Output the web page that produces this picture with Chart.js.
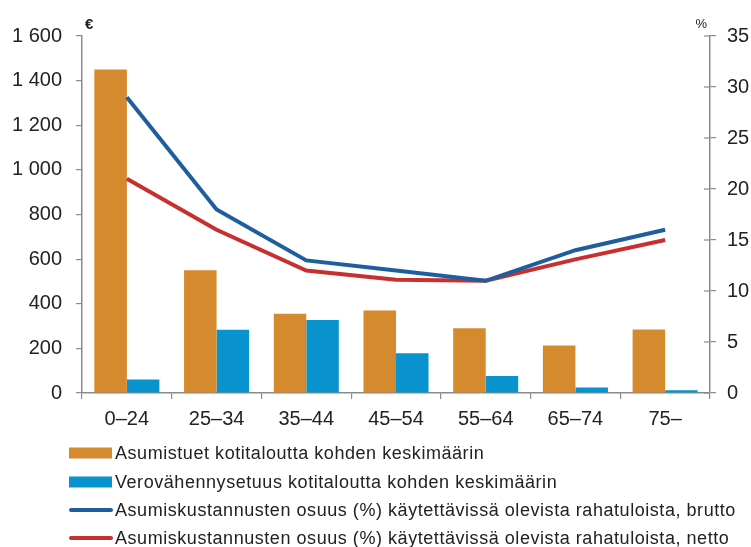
<!DOCTYPE html>
<html>
<head>
<meta charset="utf-8">
<script src="https://cdn.jsdelivr.net/npm/chart.js@4.4.1/dist/chart.umd.min.js"></script>
<style>
html,body{margin:0;padding:0;background:#fff;}
#wrap{position:relative;width:751px;height:547px;}
</style>
</head>
<body>
<div id="wrap"><canvas id="c" width="751" height="547"></canvas></div>
<script>
const categories = ['0–24','25–34','35–44','45–54','55–64','65–74','75–'];
const asumistuet = [1450, 550, 355, 370, 290, 213, 285];
const verovahennys = [60, 283, 327, 178, 76, 25, 12];
const osuusBrutto = [29, 18, 13, 12, 11, 14, 16];
const osuusNetto = [21, 16, 12, 11.1, 11, 13.1, 15];
const leftTickLabels = ['0','200','400','600','800','1 000','1 200','1 400','1 600'];
const rightTickLabels = ['0','5','10','15','20','25','30','35'];
const seriesNames = [
  'Asumistuet kotitaloutta kohden keskimäärin',
  'Verovähennysetuus kotitaloutta kohden keskimäärin',
  'Asumiskustannusten osuus (%) käytettävissä olevista rahatuloista, brutto',
  'Asumiskustannusten osuus (%) käytettävissä olevista rahatuloista, netto'
];
const leftUnit = '€';
const rightUnit = '%';

const COL_OR = '#D68A2E', COL_BL = '#0993CE', COL_BLINE = '#1E5E9F', COL_RED = '#C7302F';
const AXIS = '#8a8a8a', TXT = '#222';
const FONT = "'Liberation Sans', Arial, sans-serif";

const extras = {
  id: 'extras',
  afterDraw(chart) {
    const ctx = chart.ctx, a = chart.chartArea;
    ctx.save();
    ctx.fillStyle = TXT;
    ctx.textBaseline = 'middle';
    ctx.font = 'bold 15px ' + FONT;
    ctx.textAlign = 'left';
    ctx.fillText(leftUnit, a.left + 3, 25);
    ctx.font = '13px ' + FONT;
    ctx.textAlign = 'right';
    ctx.fillText(rightUnit, a.right - 3, 24);
    // right axis crossing ticks
    const y1 = chart.scales.y1;
    ctx.strokeStyle = AXIS; ctx.lineWidth = 1.2;
    y1.ticks.forEach((t) => {
      const yy = y1.getPixelForValue(t.value);
      ctx.beginPath(); ctx.moveTo(a.right - 6, yy); ctx.lineTo(a.right, yy); ctx.stroke();
    });
    // legend
    const ds = chart.data.datasets;
    const rows = [453, 482, 510, 538];
    ctx.font = '18px ' + FONT;
    if ('letterSpacing' in ctx) ctx.letterSpacing = '0.55px';
    ctx.textAlign = 'left';
    ds.forEach((d, i) => {
      const y = rows[i];
      if (d.type === 'line') {
        ctx.strokeStyle = d.borderColor; ctx.lineWidth = 4; ctx.lineCap = 'round';
        ctx.beginPath(); ctx.moveTo(71, y); ctx.lineTo(111, y); ctx.stroke();
      } else {
        ctx.fillStyle = d.backgroundColor;
        ctx.fillRect(69, y - 5.5, 43, 11);
      }
      ctx.fillStyle = TXT;
      ctx.fillText(d.label, 115, y + 1);
    });
    ctx.restore();
  }
};

new Chart(document.getElementById('c'), {
  data: {
    labels: categories,
    datasets: [
      {type:'bar', label: seriesNames[0], data: asumistuet, backgroundColor: COL_OR, yAxisID:'y', order:2, categoryPercentage:0.725, barPercentage:1},
      {type:'bar', label: seriesNames[1], data: verovahennys, backgroundColor: COL_BL, yAxisID:'y', order:2, categoryPercentage:0.725, barPercentage:1},
      {type:'line', label: seriesNames[2], data: osuusBrutto, borderColor: COL_BLINE, backgroundColor: COL_BLINE, borderWidth:4, pointRadius:0, tension:0, yAxisID:'y1', order:1},
      {type:'line', label: seriesNames[3], data: osuusNetto, borderColor: COL_RED, backgroundColor: COL_RED, borderWidth:4, pointRadius:0, tension:0, yAxisID:'y1', order:1}
    ]
  },
  options: {
    responsive:false,
    animation:false,
    layout:{padding:{top:36,left:0,right:0,bottom:0}},
    plugins:{legend:{display:false}, tooltip:{enabled:false}},
    scales:{
      x:{
        offset:true,
        grid:{offset:true, drawOnChartArea:false, drawTicks:true, tickLength:6, color:AXIS, lineWidth:1.2},
        border:{display:true, color:AXIS, width:1.5},
        ticks:{color:TXT, font:{family:FONT, size:20}, padding:8, maxRotation:0},
        afterFit(s){ s.height = 154; }
      },
      y:{
        position:'left', min:0, max:1600,
        grid:{drawOnChartArea:false, drawTicks:true, tickLength:6, color:AXIS, lineWidth:1.2},
        border:{display:true, color:AXIS, width:1.5},
        ticks:{stepSize:200, color:TXT, font:{family:FONT, size:20}, padding:14,
          callback:(v,i)=>leftTickLabels[i]},
        afterFit(s){ s.width = 82; }
      },
      y1:{
        position:'right', min:0, max:35,
        grid:{drawOnChartArea:false, drawTicks:true, tickLength:6, color:AXIS, lineWidth:1.2},
        border:{display:true, color:AXIS, width:1.5},
        ticks:{stepSize:5, color:TXT, font:{family:FONT, size:20}, padding:11,
          callback:(v,i)=>rightTickLabels[i]},
        afterFit(s){ s.width = 41; }
      }
    }
  },
  plugins:[extras]
});
</script>
</body>
</html>
